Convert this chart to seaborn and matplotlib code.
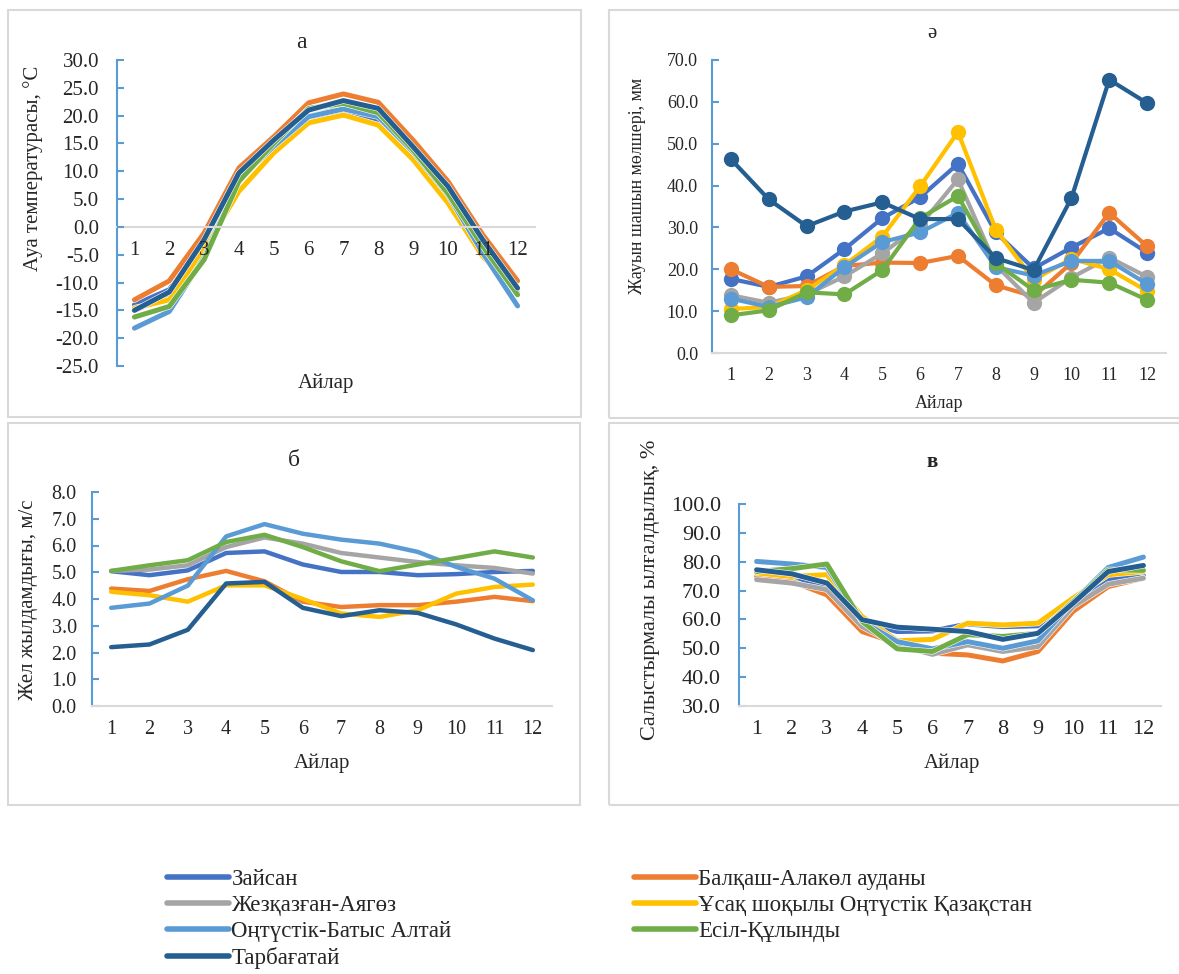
import numpy as np
import pandas as pd
import matplotlib
matplotlib.use("Agg")
import matplotlib.pyplot as plt
import matplotlib.patheffects as pe
from matplotlib.lines import Line2D
from matplotlib.patches import Rectangle
import seaborn as sns

# ---------------- data ----------------
months = list(range(1, 13))
month_labels = [str(m) for m in months]
regions = ["Зайсан", "Балқаш-Алакөл ауданы", "Жезқазған-Аягөз",
           "Ұсақ шоқылы Оңтүстік Қазақстан", "Оңтүстік-Батыс Алтай",
           "Есіл-Құлынды", "Тарбағатай"]
colors = ["#4472C4", "#ED7D31", "#A5A5A5", "#FFC000", "#5B9BD5", "#70AD47", "#255E91"]

# (а) air temperature, °C
temp_zaisan = [-14.0, -11.3, -3.0, 9.0, 14.2, 19.2, 20.9, 19.3, 13.0, 5.5, -3.5, -11.2]
temp_balkash = [-13.1, -9.7, -1.1, 10.6, 16.2, 22.3, 23.9, 22.4, 15.6, 8.2, -1.4, -9.7]
temp_zhezkazgan = [-15.0, -12.5, -4.0, 8.8, 14.8, 19.8, 21.5, 20.0, 13.8, 6.0, -3.8, -11.5]
temp_usak = [-14.6, -13.1, -4.1, 6.4, 13.3, 18.7, 20.1, 18.3, 12.1, 4.3, -5.3, -11.8]
temp_altai = [-18.2, -15.2, -5.5, 8.5, 14.5, 19.8, 21.2, 19.8, 13.5, 5.8, -4.7, -14.2]
temp_esil = [-16.2, -14.3, -5.9, 8.2, 15.0, 21.3, 22.2, 20.5, 13.8, 6.0, -3.5, -12.2]
temp_tarbagatai = [-15.0, -11.7, -2.3, 9.7, 15.6, 21.0, 22.7, 21.3, 14.4, 7.3, -2.3, -11.0]

# (ә) precipitation, mm
prec_zaisan = [17.7, 15.8, 18.3, 24.8, 32.2, 37.2, 45.2, 28.8, 20.2, 25.2, 29.8, 24.0]
prec_balkash = [20.0, 15.8, 16.0, 20.8, 21.6, 21.5, 23.2, 16.2, 13.5, 21.5, 33.5, 25.5]
prec_zhezkazgan = [13.8, 12.0, 14.0, 18.3, 23.8, 30.5, 41.5, 21.0, 12.0, 18.0, 22.8, 18.2]
prec_usak = [10.5, 11.0, 15.0, 21.0, 27.8, 39.8, 52.8, 29.5, 17.5, 22.5, 20.0, 14.8]
prec_altai = [13.0, 11.0, 13.3, 20.5, 26.5, 28.8, 33.5, 20.5, 18.5, 22.0, 22.0, 16.5]
prec_esil = [9.0, 10.2, 14.5, 14.0, 19.8, 32.2, 37.5, 21.5, 15.0, 17.5, 16.8, 12.7]
prec_tarbagatai = [46.3, 36.7, 30.3, 33.8, 36.0, 32.0, 32.0, 22.7, 19.8, 37.0, 65.3, 59.7]

# (б) wind speed, m/s
wind_zaisan = [5.04, 4.89, 5.07, 5.72, 5.78, 5.29, 5.01, 5.01, 4.89, 4.93, 5.01, 5.05]
wind_balkash = [4.39, 4.30, 4.74, 5.05, 4.66, 3.90, 3.70, 3.77, 3.77, 3.90, 4.08, 3.92]
wind_zhezkazgan = [5.05, 5.10, 5.26, 5.94, 6.30, 6.07, 5.72, 5.55, 5.38, 5.26, 5.16, 4.95]
wind_usak = [4.27, 4.14, 3.90, 4.51, 4.51, 4.00, 3.46, 3.33, 3.58, 4.20, 4.45, 4.54]
wind_altai = [3.67, 3.83, 4.50, 6.34, 6.80, 6.44, 6.22, 6.07, 5.76, 5.20, 4.76, 3.95]
wind_esil = [5.05, 5.26, 5.45, 6.13, 6.40, 5.94, 5.41, 5.04, 5.29, 5.53, 5.78, 5.55]
wind_tarbagatai = [2.20, 2.30, 2.85, 4.58, 4.64, 3.67, 3.36, 3.58, 3.48, 3.05, 2.52, 2.09]

# (в) relative humidity, %
hum_zaisan = [74.1, 73.8, 71.4, 59.3, 55.8, 56.0, 58.4, 57.5, 57.8, 66.8, 73.8, 75.2]
hum_balkash = [74.9, 73.2, 68.5, 55.8, 51.8, 48.3, 47.7, 45.6, 48.9, 62.8, 71.4, 74.3]
hum_zhezkazgan = [73.8, 72.6, 70.3, 57.5, 51.2, 47.9, 51.2, 48.9, 50.6, 64.5, 72.2, 74.3]
hum_usak = [76.1, 74.9, 75.5, 61.0, 52.6, 53.1, 58.7, 58.1, 58.7, 67.4, 75.5, 76.6]
hum_altai = [80.1, 79.2, 78.0, 59.3, 52.3, 49.8, 52.3, 50.0, 52.6, 66.2, 78.0, 81.6]
hum_esil = [76.6, 77.6, 79.2, 59.3, 49.8, 48.9, 54.7, 54.1, 55.2, 66.2, 77.2, 77.0]
hum_tarbagatai = [77.2, 75.8, 72.6, 59.9, 57.3, 56.6, 55.8, 53.1, 55.2, 65.6, 76.6, 78.7]

temp_ticks = [30, 25, 20, 15, 10, 5, 0, -5, -10, -15, -20, -25]
prec_ticks = [0, 10, 20, 30, 40, 50, 60, 70]
wind_ticks = [0, 1, 2, 3, 4, 5, 6, 7, 8]
hum_ticks = [30, 40, 50, 60, 70, 80, 90, 100]


def long_df(series):
    rows = []
    for reg, vals in zip(regions, series):
        for m, v in zip(months, vals):
            rows.append({"month": m, "value": v, "region": reg})
    return pd.DataFrame(rows)


df_temp = long_df([temp_zaisan, temp_balkash, temp_zhezkazgan, temp_usak, temp_altai, temp_esil, temp_tarbagatai])
df_prec = long_df([prec_zaisan, prec_balkash, prec_zhezkazgan, prec_usak, prec_altai, prec_esil, prec_tarbagatai])
df_wind = long_df([wind_zaisan, wind_balkash, wind_zhezkazgan, wind_usak, wind_altai, wind_esil, wind_tarbagatai])
df_hum = long_df([hum_zaisan, hum_balkash, hum_zhezkazgan, hum_usak, hum_altai, hum_esil, hum_tarbagatai])

# ---------------- style ----------------
sns.set_theme(style="white")
SERIF = ["Liberation Serif", "DejaVu Serif"]
plt.rcParams["font.family"] = SERIF
plt.rcParams["axes.unicode_minus"] = False

W, H = 1179, 974
fig = plt.figure(figsize=(W / 100, H / 100), dpi=100)
fig.patch.set_facecolor("white")
palette = dict(zip(regions, colors))
AXBLUE = "#5B9BD5"
GRID = "#D9D9D9"


def rect(l, t, r, b):
    return [l / W, 1 - b / H, (r - l) / W, (b - t) / H]


def ftxt(x, y, s, **kw):
    fig.text(x / W, 1 - y / H, s, ha="center", va="center", **kw)


# panel frames
for (l, t, r, b) in [(8, 10, 581, 417), (609, 10, 1190, 418), (8, 423, 580, 805), (609, 423, 1190, 805)]:
    fig.patches.append(Rectangle((l / W, 1 - b / H), (r - l) / W, (b - t) / H,
                                 transform=fig.transFigure, fill=False,
                                 edgecolor=GRID, linewidth=1.5, zorder=0))


def style_axes(ax, ylim, yticks, fs, ypad, xpad, zero_axis=False):
    ax.set_xlim(0.5, 12.5)
    ax.set_ylim(*ylim)
    ax.set_yticks(yticks)
    ax.set_yticklabels([f"{t:.1f}" for t in yticks])
    ax.set_xticks(months)
    ax.set_xticklabels(month_labels)
    for s in ["top", "right"]:
        ax.spines[s].set_visible(False)
    ax.spines["left"].set_color(AXBLUE)
    ax.spines["left"].set_linewidth(1.5)
    ax.spines["bottom"].set_color(GRID)
    ax.spines["bottom"].set_linewidth(1.5)
    if zero_axis:
        ax.spines["bottom"].set_position(("data", 0))
        ax.set_axisbelow(False)
    ax.tick_params(axis="y", direction="in", length=5, width=1.5, color=AXBLUE,
                   labelsize=fs, pad=ypad, left=True)
    ax.tick_params(axis="x", length=0, labelsize=fs, pad=xpad, bottom=True)
    ax.set_xlabel("")
    ax.set_ylabel("")
    ax.set_facecolor("none")
    ax.grid(False)


halo = lambda w: [pe.Stroke(linewidth=w + 0.8, foreground="white"), pe.Normal()]

# ---- panel а : temperature ----
ax1 = fig.add_axes(rect(117, 60, 535, 366))
sns.lineplot(data=df_temp, x="month", y="value", hue="region", palette=palette,
             hue_order=regions, linewidth=3.6, legend=False, ax=ax1,
             path_effects=halo(3.6))
style_axes(ax1, (-25, 30), temp_ticks, 15, 13, 10, zero_axis=True)
ftxt(301, 42, "а", fontsize=17)
fig.text(33 / W, 1 - 168 / H, "Ауа температурасы, °C", rotation=90, ha="center",
         va="center", fontsize=15)
ftxt(326, 383, "Айлар", fontsize=15)

# ---- panel ә : precipitation ----
ax2 = fig.add_axes(rect(712, 60, 1166, 353))
sns.lineplot(data=df_prec, x="month", y="value", hue="region", palette=palette,
             hue_order=regions, linewidth=3.0, marker="o", markersize=11,
             markeredgewidth=0, legend=False, ax=ax2)
style_axes(ax2, (0, 70), prec_ticks, 13, 10, 10)
ftxt(932, 33, "ә", fontsize=15)
fig.text(637 / W, 1 - 186 / H, "Жауын шашын мөлшері, мм", rotation=90, ha="center",
         va="center", fontsize=13)
ftxt(939, 403, "Айлар", fontsize=13)

# ---- panel б : wind ----
ax3 = fig.add_axes(rect(92, 492, 552, 706))
sns.lineplot(data=df_wind, x="month", y="value", hue="region", palette=palette,
             hue_order=regions, linewidth=3.2, legend=False, ax=ax3)
style_axes(ax3, (0, 8), wind_ticks, 14.5, 11, 10)
ftxt(294, 460, "б", fontsize=17)
fig.text(29 / W, 1 - 600 / H, "Жел жылдамдығы, м/с", rotation=90, ha="center",
         va="center", fontsize=15)
ftxt(322, 763, "Айлар", fontsize=15)

# ---- panel в : humidity ----
ax4 = fig.add_axes(rect(739, 504, 1161, 706))
sns.lineplot(data=df_hum, x="month", y="value", hue="region", palette=palette,
             hue_order=regions, linewidth=3.6, legend=False, ax=ax4,
             path_effects=halo(3.6))
style_axes(ax4, (30, 100), hum_ticks, 16, 13, 10)
ftxt(932, 462, "в", fontsize=15, fontweight="bold")
fig.text(650 / W, 1 - 590 / H, "Салыстырмалы ылғалдылық, %", rotation=90, ha="center",
         va="center", fontsize=16)
ftxt(952, 763, "Айлар", fontsize=15)

# ---- legend ----
handles = [Line2D([0], [0], color=c, linewidth=4) for c in colors]
col1 = [0, 2, 4, 6]
col2 = [1, 3, 5]
for idx, xl in [(col1, 158), (col2, 625)]:
    fig.legend([handles[i] for i in idx], [regions[i] for i in idx],
               loc="upper left", bbox_to_anchor=(xl / W, 1 - 860 / H),
               frameon=False, handlelength=2.7,
               handletextpad=0.1, labelspacing=0.22, borderaxespad=0,
               prop={"family": SERIF, "size": 16.5})

fig.savefig("out.png", dpi=100, facecolor="white")
